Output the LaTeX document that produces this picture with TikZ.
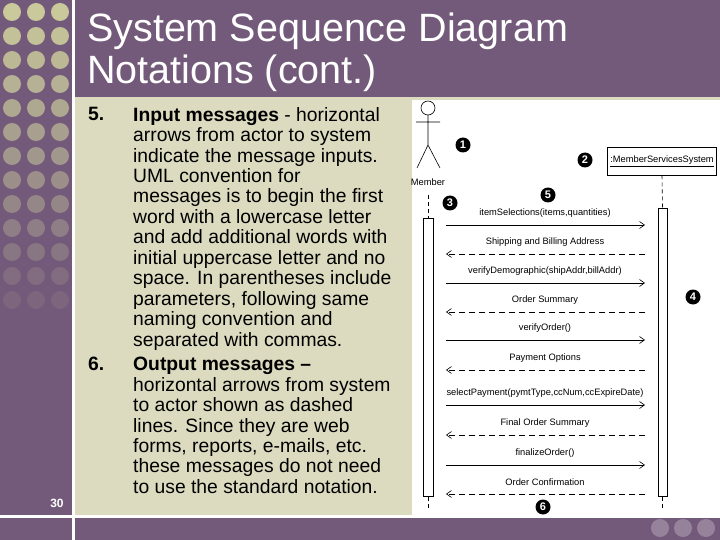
\documentclass[tikz,border=0pt]{standalone}
\usepackage{fontspec}
\setmainfont{Liberation Sans}
\usetikzlibrary{arrows.meta}
\definecolor{purp}{HTML}{735A7A}
\definecolor{beige}{HTML}{DCDBC0}
\definecolor{dotc}{HTML}{C9C99B}
\begin{document}
\begin{tikzpicture}[x=1pt,y=-1pt,
  body/.style={anchor=north west,inner sep=0pt,font=\bfseries\fontsize{19.3}{20.45}\selectfont,align=left},
  msg/.style={font=\fontsize{9.3}{10}\selectfont,inner sep=1pt},
  num/.style={circle,fill=black,text=white,inner sep=0pt,minimum size=15pt,font=\bfseries\fontsize{11}{11}\selectfont},
  solidarr/.style={-{Straight Barb[length=5pt,width=7pt]},line width=0.6pt},
  dasharr/.style={-{Straight Barb[length=5pt,width=7pt]},line width=0.6pt,dash pattern=on 6pt off 4pt},
  life/.style={line width=0.6pt,dash pattern=on 4pt off 3pt}]
\useasboundingbox (0,0) rectangle (720,540);
\fill[purp] (0,0) rectangle (720,540);
\fill[white] (72,0) rectangle (75,540);
\fill[beige] (75,97) rectangle (720,515);
\fill[white] (0,515) rectangle (720,518);
% dots
\foreach \r in {0,...,12}{
  \pgfmathsetmacro{\p}{100-\r*7.5}
  \foreach \c in {0,1,2}{
    \fill[dotc!\p!purp] (12+\c*24,12+\r*24) circle (9);
  }}
\foreach \c in {0,1,2}{\fill[purp!75!white] (660+\c*23,528) circle (9);}
% title
\node[anchor=west,text=white,font=\fontsize{39.5}{42}\selectfont,align=left,inner sep=0pt] (title) at (87,52) {System Sequence Diagram\\Notations (cont.)};
\node[text=white,font=\bfseries\fontsize{12}{12}\selectfont] (pg) at (57,503) {30};
% body
\node[body] (n5) at (88,107) {5.};
\node[body] (t5) at (133,107) {Input messages \textmd{- horizontal}\\\textmd{arrows from actor to system}\\\textmd{indicate the message inputs.}\\\textmd{UML convention for}\\\textmd{messages is to begin the first}\\\textmd{word with a lowercase letter}\\\textmd{and add additional words with}\\\textmd{initial uppercase letter and no}\\\textmd{space. In parentheses include}\\\textmd{parameters, following same}\\\textmd{naming convention and}\\\textmd{separated with commas.}};
\node[body] (n6) at (88,357) {6.};
\node[body] (t6) at (133,357) {Output messages \textendash\\\textmd{horizontal arrows from system}\\\textmd{to actor shown as dashed}\\\textmd{lines. Since they are web}\\\textmd{forms, reports, e-mails, etc.}\\\textmd{these messages do not need}\\\textmd{to use the standard notation.}};
% diagram area
\fill[white] (412,100) rectangle (720,515);
\draw[line width=0.6pt] (428,108) circle (7);
\draw[line width=0.6pt] (428,115) -- (428,145) (416,122) -- (440,122) (417,168) -- (428,145) -- (440,168);
\node[msg] (member) at (428,182) {Member};
\node[draw,line width=0.6pt,minimum width=109pt,minimum height=28pt,inner sep=1pt,font=\fontsize{9.3}{10}\selectfont] (sys) at (662,161) {\underline{:MemberServicesSystem}};
\node[draw,fill=white,line width=0.6pt,minimum width=10pt,minimum height=278pt,inner sep=0pt,anchor=north] (actA) at (428,218) {};
\node[draw,fill=white,line width=0.6pt,minimum width=9pt,minimum height=288pt,inner sep=0pt,anchor=north] (sysA) at (662.5,208) {};
\coordinate (m0) at (428,195);
\coordinate (m1) at (428,510);
\coordinate (s1) at (662.5,510);
\draw[life] (m0) -- (actA.north);
\draw[life] (actA.south) -- (m1);
\draw[life] (sys.south) -- (sysA.north);
\draw[life] (sysA.south) -- (s1);
\node[num] (c1) at (463,145) {1};
\node[num] (c2) at (585,160) {2};
\node[num] (c3) at (450,203) {3};
\node[num] (c4) at (693,297) {4};
\node[num] (c5) at (548,195) {5};
\node[num] (c6) at (543,507) {6};
% messages
\foreach \y/\lab in {225/{itemSelections(items,quantities)},254/{Shipping and Billing Address},283/{verifyDemographic(shipAddr,billAddr)},312/{Order Summary},340/{verifyOrder()},370/{Payment Options},405/{selectPayment(pymtType,ccNum,ccExpireDate)},435/{Final Order Summary},465/{finalizeOrder()},494/{Order Confirmation}}{
  \coordinate (L\y) at (446,\y);
  \coordinate (R\y) at (645,\y);
  \node[msg] (lab\y) at (545,\y-12) {\lab};
}
\draw[solidarr] (L225) -- (R225);
\draw[dasharr] (R254) -- (L254);
\draw[solidarr] (L283) -- (R283);
\draw[dasharr] (R312) -- (L312);
\draw[solidarr] (L340) -- (R340);
\draw[dasharr] (R370) -- (L370);
\draw[solidarr] (L405) -- (R405);
\draw[dasharr] (R435) -- (L435);
\draw[solidarr] (L465) -- (R465);
\draw[dasharr] (R494) -- (L494);
\end{tikzpicture}
\end{document}
